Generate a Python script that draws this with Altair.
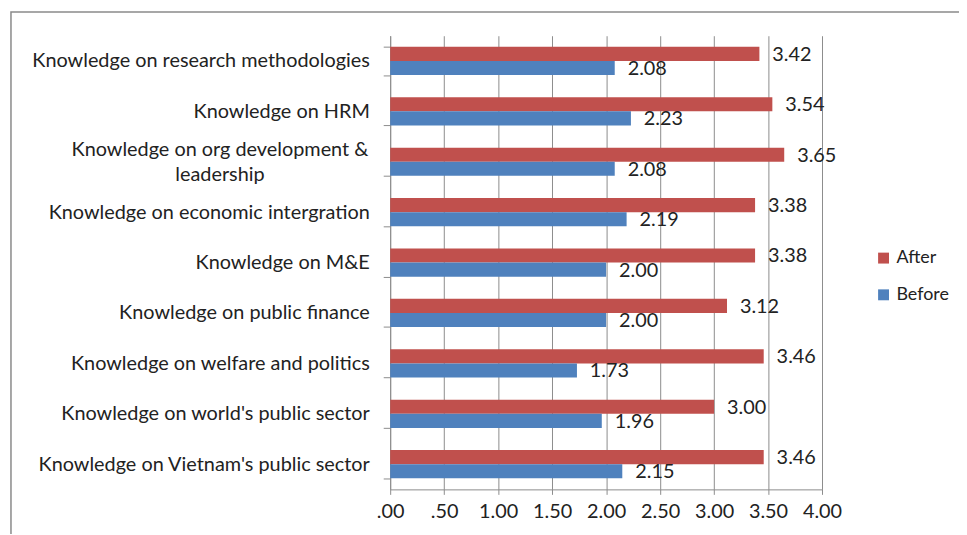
import altair as alt
import pandas as pd

categories = [
    "Knowledge on research  methodologies",
    "Knowledge on HRM",
    "Knowledge on org development & leadership",
    "Knowledge on economic intergration",
    "Knowledge on M&E",
    "Knowledge on public finance",
    "Knowledge on welfare and politics",
    "Knowledge on world's public sector",
    "Knowledge on Vietnam's public sector",
]
after = [3.42, 3.54, 3.65, 3.38, 3.38, 3.12, 3.46, 3.00, 3.46]
before = [2.08, 2.23, 2.08, 2.19, 2.00, 2.00, 1.73, 1.96, 2.15]
series = ["After", "Before"]
colors = ["#C0504D", "#4F81BD"]
x_ticks = [0, 0.5, 1.0, 1.5, 2.0, 2.5, 3.0, 3.5, 4.0]

rows = []
for c, a, b in zip(categories, after, before):
    rows.append({"category": c, "series": "After", "value": a})
    rows.append({"category": c, "series": "Before", "value": b})
df = pd.DataFrame(rows)

FONT = "Lato"
GRAY = "#8c8c8c"
TXT = "#222222"
FS = 20

wrap_label = "Knowledge on org development & leadership"
test = f"datum.value == '{wrap_label}'"
label_expr = (
    f"datum.label == '{wrap_label}' ? "
    f"['Knowledge on org development &', 'leadership'] : datum.label"
)

base = alt.Chart(df).encode(
    y=alt.Y(
        "category:N",
        sort=categories,
        title=None,
        scale=alt.Scale(paddingInner=0.44, paddingOuter=0.22),
        axis=alt.Axis(
            tickBand="extent",
            tickSize=7,
            tickColor=GRAY,
            domainColor=GRAY,
            labelPadding={"condition": {"test": test, "value": 165}, "value": 14},
            labelAlign={"condition": {"test": test, "value": "center"}, "value": "right"},
            labelOffset={"condition": {"test": test, "value": -12}, "value": 0},
            labelFont=FONT,
            labelFontSize=FS,
            labelColor=TXT,
            labelLineHeight=25,
            labelLimit=400,
            labelExpr=label_expr,
            grid=False,
        ),
    ),
    yOffset=alt.YOffset("series:N", sort=series),
    x=alt.X(
        "value:Q",
        title=None,
        scale=alt.Scale(domain=[0, 4], nice=False),
        axis=alt.Axis(
            values=x_ticks,
            grid=True,
            gridColor=GRAY,
            domainColor=GRAY,
            tickColor=GRAY,
            tickSize=5,
            labelPadding=7,
            labelFlush=False,
            labelFont=FONT,
            labelFontSize=FS,
            labelColor=TXT,
            labelExpr="datum.value < 1 ? slice(format(datum.value, '.2f'), 1) : format(datum.value, '.2f')",
        ),
    ),
)

bars = base.mark_bar().encode(
    color=alt.Color(
        "series:N",
        scale=alt.Scale(domain=series, range=colors),
        legend=alt.Legend(
            title=None,
            orient="none",
            legendX=488,
            legendY=215,
            symbolType="square",
            symbolSize=121,
            symbolStrokeWidth=0,
            labelFont=FONT,
            labelFontSize=18,
            labelColor=TXT,
            labelOffset=4,
            rowPadding=19,
            padding=0,
        ),
    )
)

text = base.mark_text(
    align="left", baseline="middle", dx=13, dy=1, font=FONT, fontSize=FS, color=TXT
).encode(text=alt.Text("value:Q", format=".2f"))

frame = alt.Chart(pd.DataFrame({"f": [0]})).mark_rect(
    fill=None, stroke="#8a8a8a", strokeWidth=1.5
).encode(
    x=alt.value(-382), x2=alt.value(800), y=alt.value(-24), y2=alt.value(800)
)

chart = (
    alt.layer(frame, bars, text)
    .properties(
        width=435,
        height=457,
        autosize=alt.AutoSizeParams(type="none"),
        padding={"left": 385, "top": 26, "right": 138, "bottom": 43},
        background="white",
    )
    .configure_view(stroke=None)
)

chart.save("out.html", embed_options={"renderer": "svg", "actions": False})
